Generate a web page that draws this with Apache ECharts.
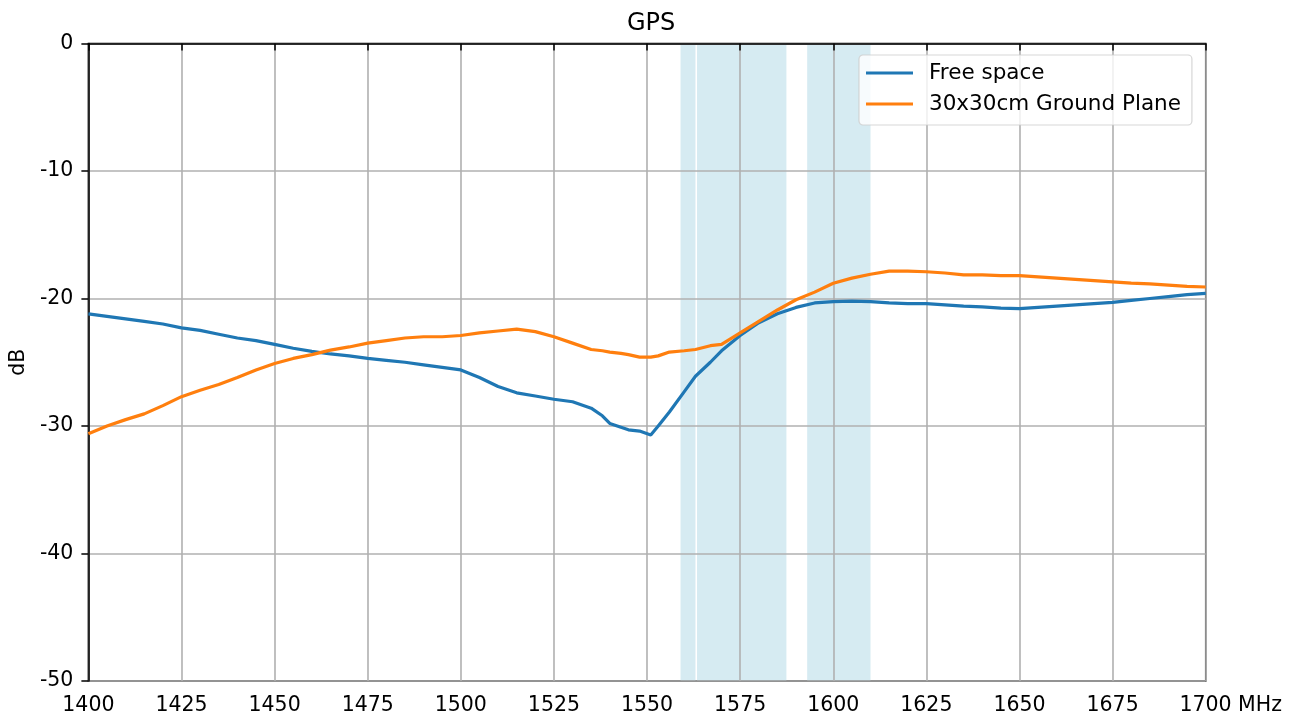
<!DOCTYPE html>
<html>
<head>
<meta charset="utf-8">
<script src="https://cdn.jsdelivr.net/npm/echarts@6/dist/echarts.min.js"></script>
<style>
html,body{margin:0;padding:0;background:#fff;}
#chart{width:1303px;height:720px;}
</style>
</head>
<body>
<div id="chart"></div>
<script>
const freq = [1400,1405,1410,1415,1420,1425,1430,1435,1440,1445,1450,1455,1460,1465,1470,1475,1480,1485,1490,1495,1500,1505,1510,1515,1520,1525,1530,1535,1538,1540,1543,1545,1548,1551,1553,1556,1560,1563,1567,1570,1575,1580,1585,1590,1595,1600,1605,1610,1615,1620,1625,1630,1635,1640,1645,1650,1655,1660,1665,1670,1675,1680,1685,1690,1695,1700];
const freeSpace = [-21.2,-21.4,-21.6,-21.8,-22.0,-22.3,-22.5,-22.8,-23.1,-23.3,-23.6,-23.9,-24.15,-24.35,-24.5,-24.7,-24.85,-25.0,-25.2,-25.4,-25.6,-26.2,-26.9,-27.4,-27.65,-27.9,-28.1,-28.6,-29.2,-29.8,-30.1,-30.3,-30.4,-30.7,-30.0,-28.9,-27.3,-26.1,-25.0,-24.1,-22.9,-21.9,-21.2,-20.7,-20.35,-20.25,-20.2,-20.25,-20.35,-20.4,-20.4,-20.5,-20.6,-20.65,-20.75,-20.8,-20.7,-20.6,-20.5,-20.4,-20.3,-20.15,-20.0,-19.85,-19.7,-19.6];
const groundPlane = [-30.6,-30.0,-29.5,-29.05,-28.4,-27.7,-27.2,-26.75,-26.2,-25.6,-25.1,-24.7,-24.4,-24.05,-23.8,-23.5,-23.3,-23.1,-23.0,-23.0,-22.9,-22.7,-22.55,-22.4,-22.6,-23.0,-23.5,-24.0,-24.1,-24.2,-24.3,-24.4,-24.6,-24.6,-24.5,-24.2,-24.1,-24.0,-23.7,-23.6,-22.7,-21.8,-20.9,-20.1,-19.5,-18.8,-18.4,-18.1,-17.85,-17.85,-17.9,-18.0,-18.15,-18.15,-18.2,-18.2,-18.3,-18.4,-18.5,-18.6,-18.7,-18.8,-18.85,-18.95,-19.05,-19.1];
const bands = [[1559, 1563], [1563.42, 1587.42], [1593, 1610]];
const seriesNames = ['Free space', '30x30cm Ground Plane'];
const titleText = 'GPS';
const xUnit = 'MHz';
const yName = 'dB';

const FONT = 'DejaVu Sans';
const chart = echarts.init(document.getElementById('chart'), null, {renderer: 'canvas'});
const pairs = vals => freq.map((f, i) => [f, vals[i]]);
const X_MAX = 1700;

chart.setOption({
  animation: false,
  backgroundColor: '#fff',
  title: {
    text: titleText, left: 622, top: 7,
    textStyle: {fontFamily: FONT, fontSize: 24, fontWeight: 'normal', color: '#000'}
  },
  legend: {
    left: 859, top: 55, orient: 'vertical',
    itemWidth: 47, itemHeight: 3, itemGap: 9,
    padding: [7, 11, 10, 7],
    backgroundColor: 'rgba(255,255,255,0.8)',
    borderColor: 'rgba(204,204,204,0.8)', borderWidth: 1.2, borderRadius: 4,
    textStyle: {fontFamily: FONT, fontSize: 21.5, color: '#000', padding: [0, 0, 0, 11]},
    data: [{name: seriesNames[0], icon: 'rect'}, {name: seriesNames[1], icon: 'rect'}]
  },
  grid: {
    left: 87.7, right: 97.3, top: 43.5, bottom: 39,
    show: true, borderColor: '#000', borderWidth: 1.5, backgroundColor: 'transparent'
  },
  xAxis: {
    type: 'value', min: 1400, max: X_MAX, interval: 25, z: 1.5,
    axisLine: {show: true, lineStyle: {color: '#000', width: 1.5}},
    axisTick: {show: true, inside: false, length: 7, lineStyle: {color: '#000', width: 1.5}},
    axisLabel: {
      fontFamily: FONT, fontSize: 20.5, color: '#000', margin: 14,
      formatter: v => v === X_MAX ? '{n|' + v + '}{u| ' + xUnit + '}' : String(v),
      rich: {
        n: {fontFamily: FONT, fontSize: 20.5, color: '#000', padding: [0, 0, 0, 50]},
        u: {fontFamily: FONT, fontSize: 20.5, color: '#000'}
      }
    },
    splitLine: {show: true, lineStyle: {color: '#b0b0b0', width: 1.6}}
  },
  yAxis: {
    type: 'value', min: -50, max: 0, interval: 10, z: 1.5,
    name: yName, nameLocation: 'middle', nameGap: 58,
    nameTextStyle: {fontFamily: FONT, fontSize: 20.5, color: '#000'},
    axisLine: {show: true, lineStyle: {color: '#000', width: 1.5}},
    axisTick: {show: true, inside: false, length: 7, lineStyle: {color: '#000', width: 1.5}},
    axisLabel: {fontFamily: FONT, fontSize: 20.5, color: '#000', margin: 15, formatter: v => String(v)},
    splitLine: {show: true, lineStyle: {color: '#b0b0b0', width: 1.6}}
  },
  series: [
    {
      name: seriesNames[0], type: 'line', data: pairs(freeSpace), showSymbol: false, z: 2,
      lineStyle: {color: '#1f77b4', width: 3.2}, itemStyle: {color: '#1f77b4'},
      markArea: {
        silent: true,
        itemStyle: {color: 'rgba(173,216,230,0.5)'},
        data: bands.map(b => [{xAxis: b[0]}, {xAxis: b[1]}])
      }
    },
    {
      name: seriesNames[1], type: 'line', data: pairs(groundPlane), showSymbol: false, z: 2,
      lineStyle: {color: '#ff7f0e', width: 3.2}, itemStyle: {color: '#ff7f0e'}
    }
  ]
});
</script>
</body>
</html>
